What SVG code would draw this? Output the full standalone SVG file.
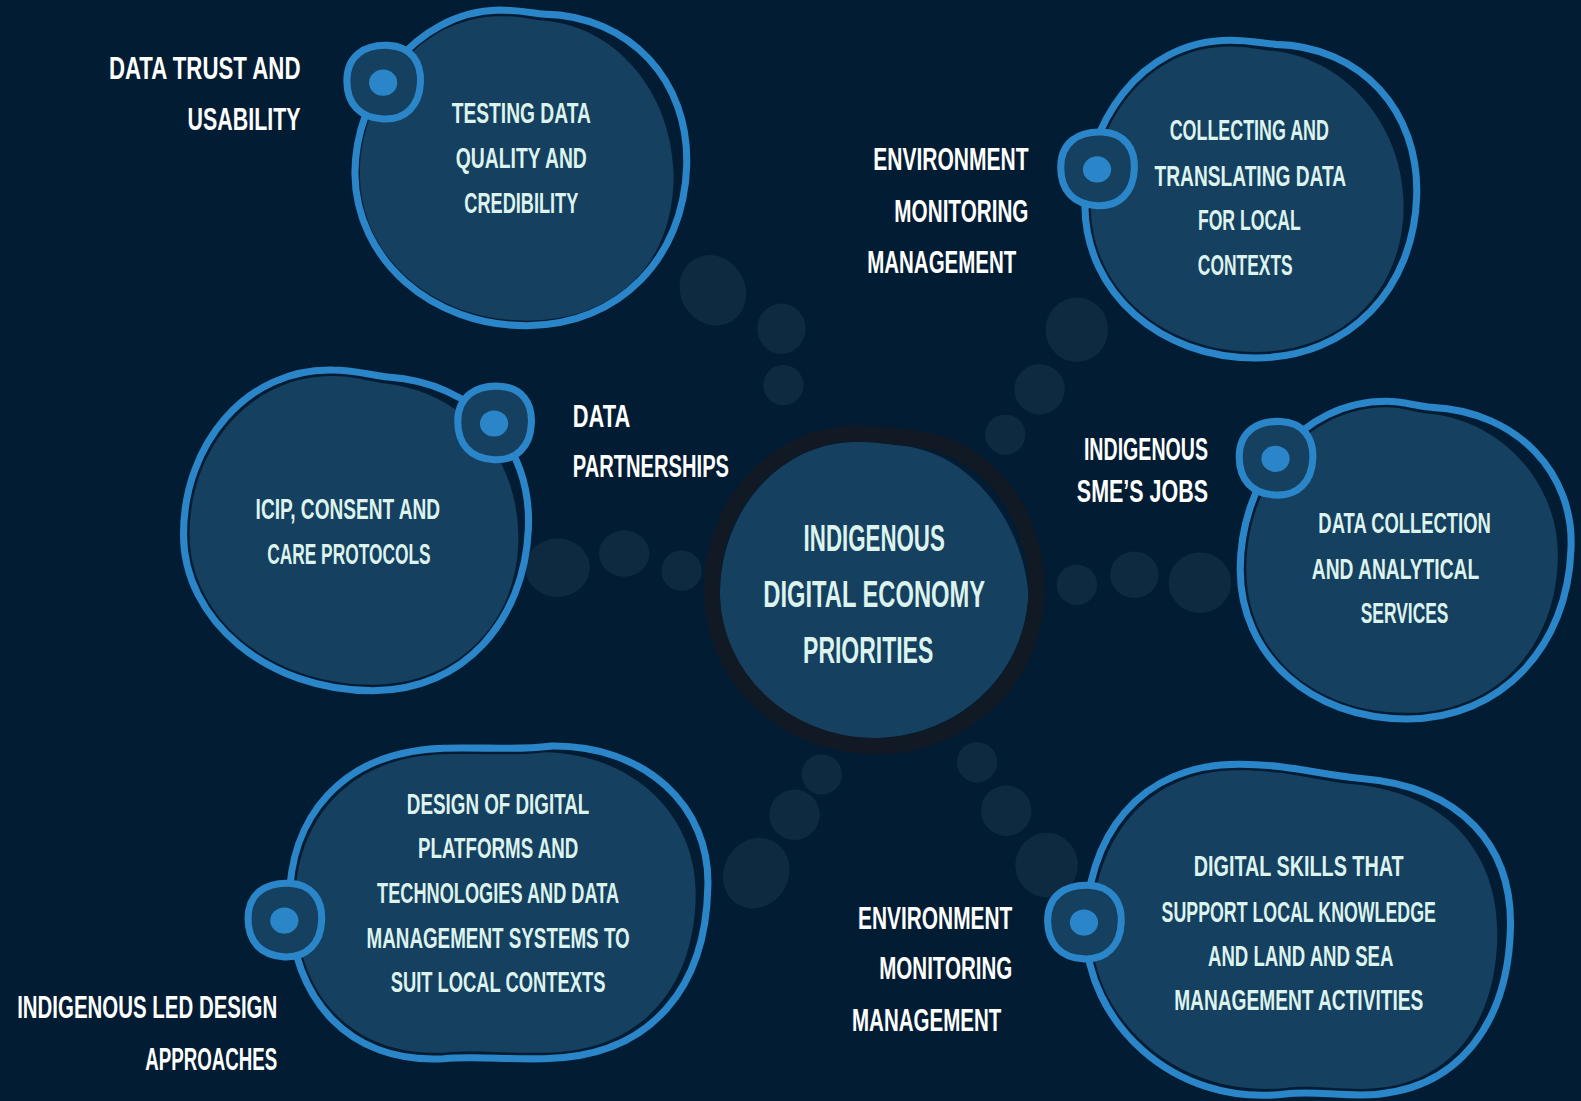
<svg xmlns="http://www.w3.org/2000/svg" width="1581" height="1101" viewBox="0 0 1581 1101">
<style>
.bg{fill:#021D33}
.dot{fill:#0E2A40}
.ring{fill:none;stroke:#2A86C8;stroke-width:7;stroke-linejoin:round}
.fill{fill:#16405F}
.knob{fill:#16405F;stroke:#2A86C8;stroke-width:7}
.pip{fill:#2A86C8}
.cring{fill:none;stroke:#111A24;stroke-width:16}
.nt{font-family:"Liberation Sans","DejaVu Sans",sans-serif;font-weight:bold;font-size:29px;fill:#DDF3EE;text-anchor:middle}
.ct{font-family:"Liberation Sans","DejaVu Sans",sans-serif;font-weight:bold;font-size:36px;fill:#DDF3EE;text-anchor:middle}
.lb{font-family:"Liberation Sans","DejaVu Sans",sans-serif;font-weight:bold;font-size:31px;fill:#FFFFFF}
.e{text-anchor:end}
</style>
<rect class="bg" x="0" y="0" width="1581" height="1101"/>
<g transform="scale(1.0083)">
<g id="connectors">
<ellipse class="dot" cx="707" cy="288" rx="32" ry="36" transform="rotate(-30 707 288)"/>
<ellipse class="dot" cx="775" cy="326" rx="24" ry="25"/>
<ellipse class="dot" cx="777" cy="382" rx="20" ry="20"/>
<ellipse class="dot" cx="1068" cy="327" rx="31" ry="32"/>
<ellipse class="dot" cx="1031" cy="386" rx="25" ry="25"/>
<ellipse class="dot" cx="997" cy="431" rx="20" ry="20"/>
<ellipse class="dot" cx="553" cy="563" rx="32" ry="29"/>
<ellipse class="dot" cx="619" cy="549" rx="25" ry="23"/>
<ellipse class="dot" cx="676" cy="566" rx="20" ry="20"/>
<ellipse class="dot" cx="1068" cy="580" rx="20" ry="20"/>
<ellipse class="dot" cx="1125" cy="570" rx="24" ry="23"/>
<ellipse class="dot" cx="1190" cy="578" rx="31" ry="30"/>
<ellipse class="dot" cx="750" cy="866" rx="32" ry="36" transform="rotate(30 750 866)"/>
<ellipse class="dot" cx="788" cy="808" rx="25" ry="25"/>
<ellipse class="dot" cx="815" cy="768" rx="20" ry="20"/>
<ellipse class="dot" cx="969" cy="756" rx="20" ry="20"/>
<ellipse class="dot" cx="998" cy="804" rx="25" ry="25"/>
<ellipse class="dot" cx="1038" cy="858" rx="31" ry="32"/>
</g>

<g id="center">
<path class="fill" d="M 895,442 C 965,450 1015,520 1020,590 C 1015,675 945,732 865,732 C 780,732 714,668 714,590 C 714,505 775,438 850,438 C 870,438 882,441 895,442 Z"/>
<path class="cring" d="M 900,434 C 980,440 1030,510 1028,590 C 1024,680 950,742 865,740 C 775,738 708,670 706,590 C 704,500 770,430 850,430 C 870,430 885,433 900,434 Z"/>
<text class="ct" transform="translate(867 546) scale(0.62 1)" textLength="225.8" lengthAdjust="spacingAndGlyphs">INDIGENOUS</text>
<text class="ct" transform="translate(867 602) scale(0.62 1)" textLength="354.8" lengthAdjust="spacingAndGlyphs">DIGITAL ECONOMY</text>
<text class="ct" transform="translate(861 658) scale(0.62 1)" textLength="208.1" lengthAdjust="spacingAndGlyphs">PRIORITIES</text>
</g>

<g id="node-testing">
<path class="fill" d="M 535,20 C 610,24 665,90 668,170 C 670,260 612,318 522,318 C 430,318 357,256 357,172 C 357,97 413,17 495,16 C 515,16 525,19 535,20 Z"/>
<path class="ring" d="M 540,14 C 625,16 684,80 681,165 C 678,255 615,323 522,323 C 428,323 353,258 352,172 C 352,95 410,12 495,10 C 515,10 528,13 540,14 Z"/>
<path class="knob" d="M 344,80 C 344,55 362,44 385,45 C 408,46 418,62 417,82 C 416,105 402,119 380,118 C 357,117 344,103 344,80 Z"/>
<ellipse class="pip" cx="380" cy="82" rx="14" ry="13"/>
<text class="nt" transform="translate(517 122) scale(0.62 1)" textLength="222.6" lengthAdjust="spacingAndGlyphs">TESTING DATA</text>
<text class="nt" transform="translate(517 167) scale(0.62 1)" textLength="209.7" lengthAdjust="spacingAndGlyphs">QUALITY AND</text>
<text class="nt" transform="translate(517 211) scale(0.62 1)" textLength="182.3" lengthAdjust="spacingAndGlyphs">CREDIBILITY</text>
<text class="lb e" transform="translate(298 78) scale(0.62 1)" textLength="306.5" lengthAdjust="spacingAndGlyphs">DATA TRUST AND</text>
<text class="lb e" transform="translate(298 129) scale(0.62 1)" textLength="180.6" lengthAdjust="spacingAndGlyphs">USABILITY</text>
</g>

<g id="node-collecting">
<path class="fill" d="M 1258,50 C 1330,55 1390,120 1392,200 C 1394,285 1335,349 1245,349 C 1155,349 1082,288 1082,205 C 1082,125 1135,46 1220,46 C 1238,46 1248,49 1258,50 Z"/>
<path class="ring" d="M 1265,44 C 1350,46 1408,110 1405,195 C 1402,285 1340,355 1245,355 C 1150,355 1077,290 1076,205 C 1075,125 1130,40 1220,40 C 1240,40 1252,43 1265,44 Z"/>
<path class="knob" d="M 1052,166 C 1052,141 1070,130 1093,131 C 1116,132 1126,148 1125,168 C 1124,191 1110,205 1088,204 C 1065,203 1052,189 1052,166 Z"/>
<ellipse class="pip" cx="1088" cy="168" rx="14" ry="13"/>
<text class="nt" transform="translate(1239 139) scale(0.62 1)" textLength="254.8" lengthAdjust="spacingAndGlyphs">COLLECTING AND</text>
<text class="nt" transform="translate(1240 184) scale(0.62 1)" textLength="306.5" lengthAdjust="spacingAndGlyphs">TRANSLATING DATA</text>
<text class="nt" transform="translate(1239 228) scale(0.62 1)" textLength="164.5" lengthAdjust="spacingAndGlyphs">FOR LOCAL</text>
<text class="nt" transform="translate(1235 273) scale(0.62 1)" textLength="151.6" lengthAdjust="spacingAndGlyphs">CONTEXTS</text>
<text class="lb" transform="translate(866 169) scale(0.62 1)" textLength="248.4" lengthAdjust="spacingAndGlyphs">ENVIRONMENT</text>
<text class="lb" transform="translate(887 220) scale(0.62 1)" textLength="214.5" lengthAdjust="spacingAndGlyphs">MONITORING</text>
<text class="lb" transform="translate(860 271) scale(0.62 1)" textLength="238.7" lengthAdjust="spacingAndGlyphs">MANAGEMENT</text>
</g>

<g id="node-icip">
<path class="fill" d="M 380,380 C 460,388 512,450 514,530 C 516,615 455,679 370,679 C 268,679 188,613 188,530 C 188,445 248,372 330,373 C 350,373 365,378 380,380 Z"/>
<path class="ring" d="M 385,374 C 470,380 528,440 524,525 C 520,615 460,685 370,685 C 265,685 182,615 182,530 C 182,440 245,365 330,367 C 350,367 368,372 385,374 Z"/>
<path class="knob" d="M 454,418 C 454,393 472,382 495,383 C 518,384 528,400 527,420 C 526,443 512,457 490,456 C 467,455 454,441 454,418 Z"/>
<ellipse class="pip" cx="490" cy="420" rx="14" ry="13"/>
<text class="nt" transform="translate(345 515) scale(0.62 1)" textLength="295.2" lengthAdjust="spacingAndGlyphs">ICIP, CONSENT AND</text>
<text class="nt" transform="translate(346 559) scale(0.62 1)" textLength="261.3" lengthAdjust="spacingAndGlyphs">CARE PROTOCOLS</text>
<text class="lb" transform="translate(568 423) scale(0.62 1)" textLength="91.9" lengthAdjust="spacingAndGlyphs">DATA</text>
<text class="lb" transform="translate(568 473) scale(0.62 1)" textLength="250" lengthAdjust="spacingAndGlyphs">PARTNERSHIPS</text>
</g>

<g id="node-datacollection">
<path class="fill" d="M 1415,410 C 1490,416 1545,480 1545,550 C 1545,640 1485,707 1395,707 C 1303,707 1236,648 1236,565 C 1236,478 1295,404 1375,404 C 1392,404 1402,409 1415,410 Z"/>
<path class="ring" d="M 1420,404 C 1505,408 1562,470 1558,545 C 1555,640 1490,713 1395,713 C 1300,713 1230,650 1230,565 C 1230,475 1290,398 1375,398 C 1392,398 1405,403 1420,404 Z"/>
<path class="knob" d="M 1229,453 C 1229,428 1247,417 1270,418 C 1293,419 1303,435 1302,455 C 1301,478 1287,492 1265,491 C 1242,490 1229,476 1229,453 Z"/>
<ellipse class="pip" cx="1265" cy="455" rx="14" ry="13"/>
<text class="nt" transform="translate(1393 529) scale(0.62 1)" textLength="275.8" lengthAdjust="spacingAndGlyphs">DATA COLLECTION</text>
<text class="nt" transform="translate(1384 574) scale(0.62 1)" textLength="267.7" lengthAdjust="spacingAndGlyphs">AND ANALYTICAL</text>
<text class="nt" transform="translate(1393 618) scale(0.62 1)" textLength="140.3" lengthAdjust="spacingAndGlyphs">SERVICES</text>
<text class="lb e" transform="translate(1198 456) scale(0.62 1)" textLength="198.4" lengthAdjust="spacingAndGlyphs">INDIGENOUS</text>
<text class="lb e" transform="translate(1198 498) scale(0.62 1)" textLength="209.7" lengthAdjust="spacingAndGlyphs">SME’S JOBS</text>
</g>

<g id="node-design">
<path class="fill" d="M 540,746 C 630,748 690,810 690,885 C 690,975 640,1043 540,1044 C 500,1045 470,1041 440,1044 C 350,1048 295,988 293,900 C 291,815 345,750 440,748 C 480,747 512,750 540,746 Z"/>
<path class="ring" d="M 545,740 C 640,738 705,800 702,880 C 700,975 650,1048 540,1050 C 500,1051 470,1047 440,1050 C 345,1055 290,990 287,900 C 285,810 340,745 440,742 C 480,741 515,744 545,740 Z"/>
<path class="knob" d="M 246,911 C 246,886 264,875 287,876 C 310,877 320,893 319,913 C 318,936 304,950 282,949 C 259,948 246,934 246,911 Z"/>
<ellipse class="pip" cx="282" cy="913" rx="14" ry="13"/>
<text class="nt" transform="translate(494 807) scale(0.62 1)" textLength="291.9" lengthAdjust="spacingAndGlyphs">DESIGN OF DIGITAL</text>
<text class="nt" transform="translate(494 851) scale(0.62 1)" textLength="256.5" lengthAdjust="spacingAndGlyphs">PLATFORMS AND</text>
<text class="nt" transform="translate(494 896) scale(0.62 1)" textLength="387.1" lengthAdjust="spacingAndGlyphs">TECHNOLOGIES AND DATA</text>
<text class="nt" transform="translate(494 940) scale(0.62 1)" textLength="421" lengthAdjust="spacingAndGlyphs">MANAGEMENT SYSTEMS TO</text>
<text class="nt" transform="translate(494 984) scale(0.62 1)" textLength="343.5" lengthAdjust="spacingAndGlyphs">SUIT LOCAL CONTEXTS</text>
<text class="lb e" transform="translate(275 1010) scale(0.62 1)" textLength="416.1" lengthAdjust="spacingAndGlyphs">INDIGENOUS LED DESIGN</text>
<text class="lb e" transform="translate(275 1061) scale(0.62 1)" textLength="211.3" lengthAdjust="spacingAndGlyphs">APPROACHES</text>
</g>

<g id="node-skills">
<path class="fill" d="M 1345,778 C 1440,788 1485,850 1485,925 C 1485,1010 1442,1080 1350,1080 C 1320,1080 1300,1076 1275,1079 C 1165,1090 1083,1008 1083,925 C 1083,835 1135,763 1230,764 C 1280,764 1308,775 1345,778 Z"/>
<path class="ring" d="M 1350,772 C 1450,780 1500,840 1498,920 C 1496,1010 1450,1085 1350,1086 C 1320,1086 1300,1082 1275,1085 C 1160,1098 1078,1010 1077,925 C 1076,830 1130,757 1230,758 C 1280,758 1310,769 1350,772 Z"/>
<path class="knob" d="M 1039,913 C 1039,888 1057,877 1080,878 C 1103,879 1113,895 1112,915 C 1111,938 1097,952 1075,951 C 1052,950 1039,936 1039,913 Z"/>
<ellipse class="pip" cx="1075" cy="915" rx="14" ry="13"/>
<text class="nt" transform="translate(1288 869) scale(0.62 1)" textLength="335.5" lengthAdjust="spacingAndGlyphs">DIGITAL SKILLS THAT</text>
<text class="nt" transform="translate(1288 914) scale(0.62 1)" textLength="438.7" lengthAdjust="spacingAndGlyphs">SUPPORT LOCAL KNOWLEDGE</text>
<text class="nt" transform="translate(1290 958) scale(0.62 1)" textLength="296.8" lengthAdjust="spacingAndGlyphs">AND LAND AND SEA</text>
<text class="nt" transform="translate(1288 1002) scale(0.62 1)" textLength="398.4" lengthAdjust="spacingAndGlyphs">MANAGEMENT ACTIVITIES</text>
<text class="lb" transform="translate(851 921) scale(0.62 1)" textLength="246.8" lengthAdjust="spacingAndGlyphs">ENVIRONMENT</text>
<text class="lb" transform="translate(872 971) scale(0.62 1)" textLength="212.9" lengthAdjust="spacingAndGlyphs">MONITORING</text>
<text class="lb" transform="translate(845 1023) scale(0.62 1)" textLength="238.7" lengthAdjust="spacingAndGlyphs">MANAGEMENT</text>
</g>
</g>
</svg>
